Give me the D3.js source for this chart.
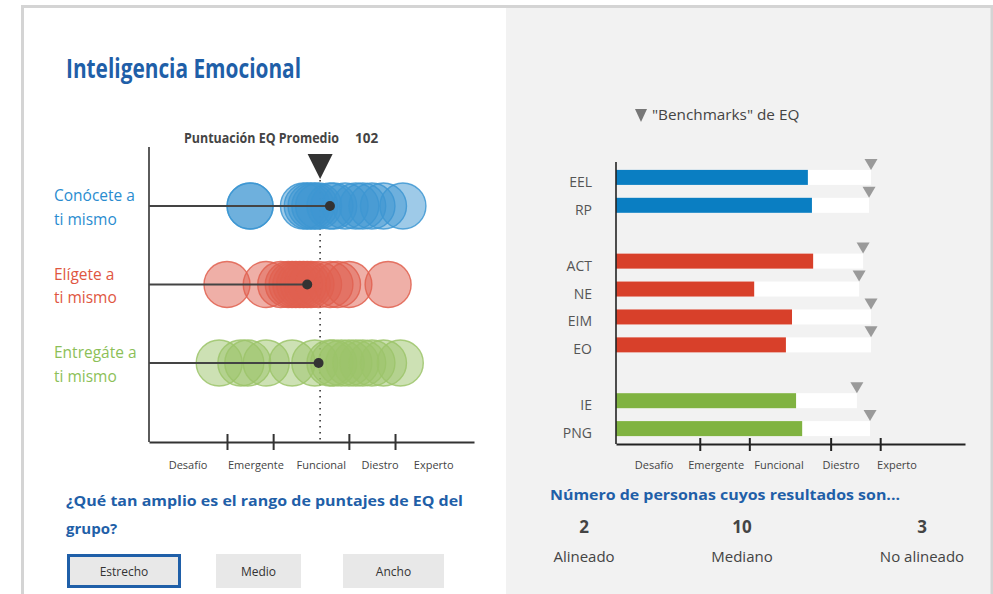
<!DOCTYPE html>
<html><head><meta charset="utf-8">
<script src="https://cdn.jsdelivr.net/npm/d3@7"></script>
<style>
body{margin:0;background:#fff;}
svg text{font-family:"Open Sans",sans-serif;}
</style>
</head><body>
<svg id="chart" width="993" height="594"></svg>
<script>
// ---------- DATA ----------
const bandLabels = ["Desafío","Emergente","Funcional","Diestro","Experto"];
const bandBreaks = [40,70,90,110,130,160];
const tickValues = [70,90,110,130];
const rowNames = [["Conócete a","ti mismo"],["Elígete a","ti mismo"],["Entregáte a","ti mismo"]];
const blueScores  = [80,80,98,99,100,101,102,105,106,109,113,116,120,125,133];
const redScores   = [70,87,92,94,95,96,97,98,99,100,102,105,107,110,127];
const greenScores = [67,76,79,87,95,101,105,106,108,110,113,116,120,125,132];
const rowMeans = [105,99,102];
const groupMean = 102.4;
const barCats   = ["EEL","RP","ACT","NE","EIM","EO","IE","PNG"];
const barGroups = [0,0,1,1,1,1,2,2];
const barScores   = [104.4,105.4,105.7,91.2,100.5,99,101.5,103];
const benchScores = [126.3,125.5,123.1,121.5,126.3,126.3,120.6,125.9];
const countValues = [2,10,3];
const countLabels = ["Alineado","Mediano","No alineado"];
const rangeOptions = ["Estrecho","Medio","Ancho"];

// ---------- STYLE / LAYOUT ----------
const rowColors = ["#3d96d2","#e0604f","#9cc46a"];
const rowText   = ["#2a8ccf","#e0563f","#8cbf58"];
const barColors = ["#0a7ec2","#d8402a","#80b341"];
const blueT = "#1f5fa8";
const fracs = [0,0.24,0.382,0.615,0.757,1];
const labelFracsL = [0.12,0.329,0.53,0.711,0.876];
const labelFracsR = [0.109,0.287,0.467,0.645,0.805];

const svg = d3.select("#chart");

// panels
svg.append("rect").attr("x",506).attr("y",7).attr("width",487).attr("height",600).attr("fill","#f2f2f2");
svg.append("rect").attr("x",22.5).attr("y",6.5).attr("width",969.5).attr("height",600)
  .attr("fill","none").attr("stroke","#d4d4d4").attr("stroke-width",3);

svg.append("text").attr("x",66).attr("y",78).attr("fill",blueT)
  .attr("font-size",26).attr("font-weight",700)
  .attr("textLength",235).attr("lengthAdjust","spacingAndGlyphs")
  .text("Inteligencia Emocional");

function pieceScale(x0,x1){
  return d3.scaleLinear().domain(bandBreaks).range(fracs.map(f=>x0+f*(x1-x0)));
}

// ---------- LEFT CHART ----------
const xL = pieceScale(149,474);
const axisYL = 442;
const yRow = d3.scalePoint().domain([0,1,2]).range([206,363]);

const gL = svg.append("g");
gL.append("line").attr("x1",149).attr("x2",149).attr("y1",147).attr("y2",axisYL)
  .attr("stroke","#333").attr("stroke-width",1.6);
const axL = gL.append("g").attr("transform",`translate(0,${axisYL})`)
  .call(d3.axisBottom(xL).tickValues(tickValues).tickFormat("").tickSizeOuter(0));
axL.select(".domain").attr("stroke","#333").attr("stroke-width",1.8);
axL.selectAll(".tick line").attr("y1",-8).attr("y2",8).attr("stroke","#333").attr("stroke-width",2);
gL.selectAll(".bandL").data(bandLabels).join("text")
  .attr("x",(d,i)=>149+labelFracsL[i]*325).attr("y",469)
  .attr("text-anchor","middle").attr("font-size",11).attr("fill","#444").text(d=>d);

// dotted mean line
const mx = xL(groupMean);
gL.append("line").attr("x1",mx).attr("x2",mx).attr("y1",180).attr("y2",axisYL)
  .attr("stroke","#333").attr("stroke-width",1.6).attr("stroke-dasharray","1.6,4.4");

// circles
const allRows = [blueScores, redScores, greenScores];
allRows.forEach((scores,ri)=>{
  gL.append("g").selectAll("circle").data(scores).join("circle")
    .attr("cx",d=>xL(d)).attr("cy",yRow(ri)).attr("r",23)
    .attr("fill",rowColors[ri]).attr("fill-opacity",0.5)
    .attr("stroke",rowColors[ri]).attr("stroke-opacity",0.85).attr("stroke-width",1.4);
});
gL.selectAll(".mline").data(rowMeans).join("line")
  .attr("x1",149).attr("x2",d=>xL(d)).attr("y1",(d,i)=>yRow(i)).attr("y2",(d,i)=>yRow(i))
  .attr("stroke","#444").attr("stroke-width",1.8);
gL.selectAll(".mdot").data(rowMeans).join("circle")
  .attr("cx",d=>xL(d)).attr("cy",(d,i)=>yRow(i)).attr("r",5).attr("fill","#333");

rowNames.forEach((lines,ri)=>{
  lines.forEach((t,li)=>{
    gL.append("text").attr("x",54).attr("y",yRow(ri)-5+li*23.5)
      .attr("font-size",15.5).attr("fill",rowText[ri]).text(t);
  });
});

// mean marker
gL.append("path")
  .attr("d",`M${mx-12.5},154L${mx+12.5},154L${mx},179Z`).attr("fill","#333");
gL.append("text").attr("x",184).attr("y",143).attr("font-size",13.5).attr("font-weight",700)
  .attr("fill","#444").attr("textLength",155).attr("lengthAdjust","spacingAndGlyphs")
  .text("Puntuación EQ Promedio");
gL.append("text").attr("x",355).attr("y",143).attr("font-size",13.5).attr("font-weight",700)
  .attr("fill","#444").text(Math.round(groupMean));

// question + buttons
svg.append("text").attr("x",66).attr("y",506).attr("font-size",15).attr("font-weight",700)
  .attr("fill",blueT).attr("textLength",397).attr("lengthAdjust","spacingAndGlyphs")
  .text("¿Qué tan amplio es el rango de puntajes de EQ del");
svg.append("text").attr("x",66).attr("y",534).attr("font-size",15).attr("font-weight",700)
  .attr("fill",blueT).text("grupo?");
const btnX = [[67,181],[216,301],[343,444]];
rangeOptions.forEach((t,i)=>{
  const [a,b]=btnX[i];
  svg.append("rect").attr("x",a+(i===0?1.5:0)).attr("y",554+(i===0?1.5:0))
    .attr("width",b-a-(i===0?3:0)).attr("height",34-(i===0?3:0))
    .attr("fill","#e8e8e8").attr("stroke",i===0?blueT:"none").attr("stroke-width",3);
  svg.append("text").attr("x",(a+b)/2).attr("y",576).attr("text-anchor","middle")
    .attr("font-size",12).attr("fill","#333").text(t);
});

// ---------- RIGHT CHART ----------
const xR = pieceScale(616,965);
const axisYR = 444;
const slotKeys = ["EEL","RP","g1","ACT","NE","EIM","EO","g2","IE","PNG"];
const yB = d3.scaleBand().domain(slotKeys).range([159,447]).paddingInner(0.462).paddingOuter(0.39);
const gR = svg.append("g");

gR.append("path").attr("d","M635,109L647,109L641,122Z").attr("fill","#777");
gR.append("text").attr("x",652).attr("y",120).attr("font-size",15.3).attr("fill","#444")
  .text("\"Benchmarks\" de EQ");

gR.selectAll(".track").data(barCats).join("rect")
  .attr("x",xR(40)).attr("y",d=>yB(d)).attr("height",yB.bandwidth())
  .attr("width",(d,i)=>xR(benchScores[i])-xR(40)).attr("fill","#fff");
gR.selectAll(".bar").data(barCats).join("rect")
  .attr("x",xR(40)).attr("y",d=>yB(d)).attr("height",yB.bandwidth())
  .attr("width",(d,i)=>xR(barScores[i])-xR(40)).attr("fill",(d,i)=>barColors[barGroups[i]]);
gR.selectAll(".bench").data(barCats).join("path")
  .attr("d",(d,i)=>{const x=xR(benchScores[i]), y=yB(d); return `M${x-6.5},${y-11}L${x+6.5},${y-11}L${x},${y}Z`;})
  .attr("fill","#9a9a9a");
gR.selectAll(".cat").data(barCats).join("text")
  .attr("x",592).attr("y",d=>yB(d)+yB.bandwidth()/2+9.5).attr("text-anchor","end")
  .attr("font-size",14).attr("fill","#555").text(d=>d);

gR.append("line").attr("x1",616).attr("x2",616).attr("y1",162).attr("y2",axisYR)
  .attr("stroke","#222").attr("stroke-width",1.6);
const axR = gR.append("g").attr("transform",`translate(0,${axisYR})`)
  .call(d3.axisBottom(xR).tickValues(tickValues).tickFormat("").tickSizeOuter(0));
axR.select(".domain").attr("stroke","#222").attr("stroke-width",1.8);
axR.selectAll(".tick line").attr("y1",-6).attr("y2",7).attr("stroke","#222").attr("stroke-width",2);
gR.selectAll(".bandR").data(bandLabels).join("text")
  .attr("x",(d,i)=>616+labelFracsR[i]*349).attr("y",469)
  .attr("text-anchor","middle").attr("font-size",11).attr("fill","#444").text(d=>d);

svg.append("text").attr("x",550).attr("y",500).attr("font-size",15).attr("font-weight",700)
  .attr("fill",blueT).attr("textLength",350).attr("lengthAdjust","spacingAndGlyphs")
  .text("Número de personas cuyos resultados son...");
const cx = [584,742,922];
countValues.forEach((v,i)=>{
  svg.append("text").attr("x",cx[i]).attr("y",533).attr("text-anchor","middle")
    .attr("font-size",17).attr("font-weight",700).attr("fill","#444").text(v);
  svg.append("text").attr("x",cx[i]).attr("y",562).attr("text-anchor","middle")
    .attr("font-size",15).attr("fill","#444").text(countLabels[i]);
});
</script>
</body></html>
